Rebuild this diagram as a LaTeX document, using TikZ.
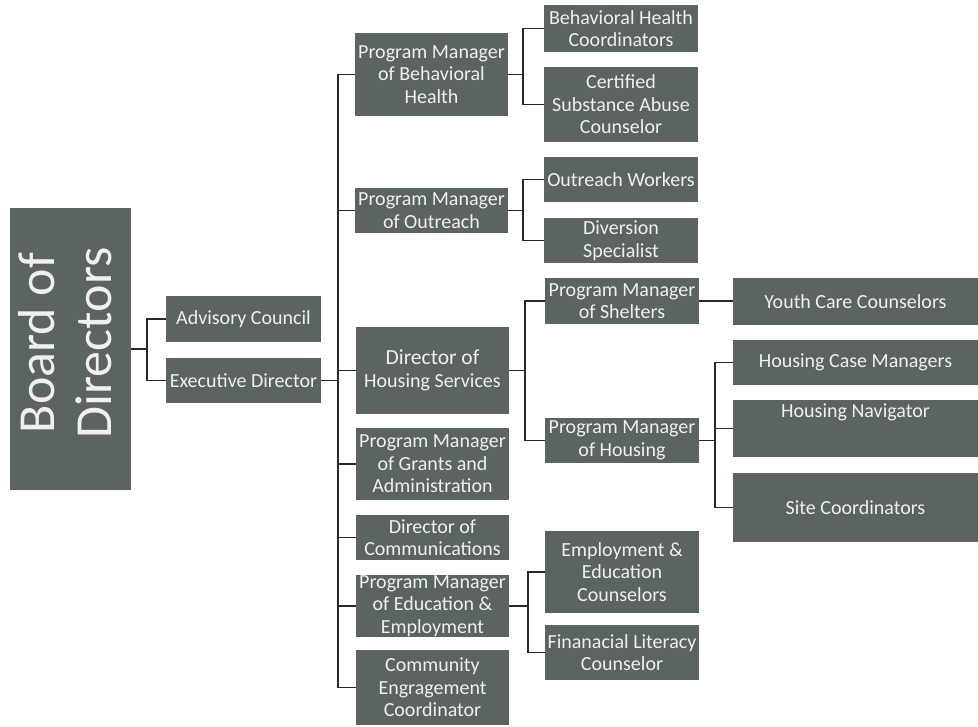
\documentclass[tikz,border=0pt]{standalone}
\usepackage{fontspec}
\setmainfont{Carlito}
\usetikzlibrary{calc}
\definecolor{boxfill}{RGB}{92,100,96}
\definecolor{boxtext}{RGB}{240,240,238}
\definecolor{linecol}{RGB}{40,40,40}
\tikzset{
  orgbox/.style={draw=none, fill=boxfill, text=boxtext, inner sep=0pt, align=center,
    font=\fontsize{20}{22.5}\selectfont},
  conn/.style={draw=linecol, line width=1.3pt}
}
\newcommand{\bx}[6]{%
  \node[orgbox, minimum width=#4pt-#2pt, minimum height=#5pt-#3pt]
    (#1) at ({(#2+#4)/2}, {-(#3+#5)/2}) {#6};}
\begin{document}
\begin{tikzpicture}[x=1pt, y=1pt]
\fill[white] (0,0) rectangle (978,-727);
\useasboundingbox (0,0) rectangle (978,-727);
% Board
\bx{board}{10}{208}{131}{490}{}
\node[orgbox, fill=none, rotate=90, font=\fontsize{52}{57}\selectfont]
  (boardtext) at (65,-343) {Board of\\Directors};
\bx{adv}{166}{296}{321}{342}{Advisory Council}
\bx{exec}{166}{358}{321}{403}{Executive Director}
% middle column
\bx{pmbh}{355}{33}{508}{116}{Program Manager\\of Behavioral\\Health}
\bx{pmout}{355}{188}{508}{233}{Program Manager\\of Outreach}
\bx{dhs}{356}{327}{509}{414}{\fontsize{21.5}{25}\selectfont Director of\\Housing Services}
\bx{pmga}{356}{428}{509}{500}{Program Manager\\of Grants and\\Administration}
\bx{dcom}{356}{515}{509}{560}{Director of\\Communications}
\bx{pmee}{356}{575}{509}{637}{Program Manager\\of Education \&\\Employment}
\bx{cec}{356}{650}{509}{725}{Community\\Engragement\\Coordinator}
% third column
\bx{bhc}{544}{5}{698}{52}{Behavioral Health\\Coordinators}
\bx{csac}{544}{67}{698}{142}{Certified\\Substance Abuse\\Counselor}
\bx{ow}{544}{157}{698}{202}{Outreach Workers}
\bx{ds}{544}{218}{698}{263}{Diversion\\Specialist}
\bx{pms}{545}{278}{699}{324}{Program Manager\\of Shelters}
\bx{pmh}{545}{418}{699}{463}{Program Manager\\of Housing}
\bx{eec}{545}{531}{699}{613}{Employment \&\\Education\\Counselors}
\bx{flc}{545}{625}{699}{680}{Finanacial Literacy\\Counselor}
% fourth column
\bx{ycc}{733}{278}{978}{325}{Youth Care Counselors}
\bx{hcm}{733}{340}{978}{385}{Housing Case Managers}
\node[orgbox, minimum width=245pt, minimum height=57pt,
  label={[orgbox, fill=none, anchor=north, yshift=-4pt]north:Housing Navigator}]
  (hn) at (855.5,-428.5) {};
\bx{sc}{733}{473}{978}{542}{Site Coordinators}
% bracket coordinates
\coordinate (kb) at (147,0);
\coordinate (kt) at (338,0);
\coordinate (k1) at (523,0);
\coordinate (k2) at (525,0);
\coordinate (k3) at (528,0);
\coordinate (k4) at (715,0);
% board
\draw[conn] (board.east) -- (board.east -| kb);
\draw[conn] (adv.west) -| (kb |- exec.west) -- (exec.west);
% executive director to trunk
\draw[conn] (exec.east) -- (exec.east -| kt);
\draw[conn] (pmbh.west) -| (kt |- cec.west) -- (cec.west);
\foreach \n in {pmout,dhs,pmga,dcom,pmee}{\draw[conn] (\n.west) -- (\n.west -| kt);}
% behavioural health
\draw[conn] (pmbh.east) -- (pmbh.east -| k1);
\draw[conn] (bhc.west) -| (k1 |- csac.west) -- (csac.west);
% outreach
\draw[conn] (pmout.east) -- (pmout.east -| k1);
\draw[conn] (ow.west) -| (k1 |- ds.west) -- (ds.west);
% housing services
\draw[conn] (dhs.east) -- (dhs.east -| k2);
\draw[conn] (pms.west) -| (k2 |- pmh.west) -- (pmh.west);
\draw[conn] (pms.east) -- (pms.east -| ycc.west);
% housing
\draw[conn] (pmh.east) -- (pmh.east -| k4);
\draw[conn] (hcm.west) -| (k4 |- sc.west) -- (sc.west);
\draw[conn] (hn.west) -- (hn.west -| k4);
% education
\draw[conn] (pmee.east) -- (pmee.east -| k3);
\draw[conn] (eec.west) -| (k3 |- flc.west) -- (flc.west);
\end{tikzpicture}
\end{document}
